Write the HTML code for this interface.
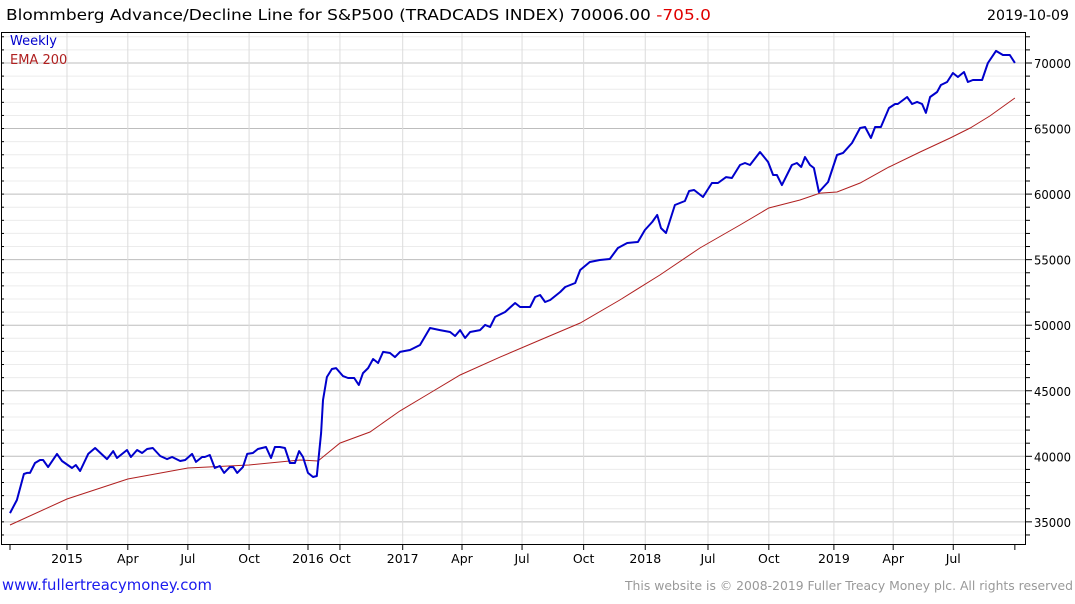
<!DOCTYPE html>
<html><head><meta charset="utf-8"><style>
body{margin:0;background:#fff;width:1075px;height:600px;overflow:hidden;font-family:"DejaVu Sans",sans-serif}
</style></head><body>
<svg id="chart" width="1075" height="600" xmlns="http://www.w3.org/2000/svg" font-family="DejaVu Sans, sans-serif">
<text x="6" y="20" font-size="15" fill="#000" textLength="705" lengthAdjust="spacingAndGlyphs">Blommberg Advance/Decline Line for S&amp;P500 (TRADCADS INDEX) 70006.00 <tspan fill="#e00000">-705.0</tspan></text>
<text x="1069" y="20" font-size="14" fill="#000" text-anchor="end" textLength="82" lengthAdjust="spacingAndGlyphs">2019-10-09</text>
<g id="grid"></g>
<g id="series"></g>
<rect x="1.5" y="32.5" width="1024" height="512" fill="none" stroke="#000" stroke-width="1"/>
<g id="axes"></g>
<text x="10" y="45" font-size="13" fill="#0000cc">Weekly</text>
<text x="10" y="64" font-size="13" fill="#b02020">EMA 200</text>
<text x="2" y="590" font-size="15" fill="#1a1aee" textLength="210" lengthAdjust="spacingAndGlyphs">www.fullertreacymoney.com</text>
<text x="1073" y="590" font-size="12" fill="#999" text-anchor="end" textLength="448" lengthAdjust="spacingAndGlyphs">This website is © 2008-2019 Fuller Treacy Money plc. All rights reserved</text>
</svg>
<script>
const weeklyT=[0,1.8,3.6,4.4,5.2,6.5,7.8,8.6,9.9,12.2,13.5,16.1,17.1,18.2,20.3,22.1,25.2,26.8,27.8,30.4,31.4,33,34.3,35.6,37.1,39,40.8,42.1,44.2,45.5,47.3,48.3,49.9,50.6,51.9,53.2,54.5,55.6,57.1,58,59,60.5,61.6,63.1,64.4,66.5,67.8,68.8,70.1,71.4,72.7,74,75.1,76.1,77.4,78.7,79.7,80.8,81.3,82.3,83.6,84.7,86.5,87.8,89.4,90.6,91.7,93,94.3,95.6,96.9,98.7,100,101.3,103.9,106.5,109.1,111.7,114.3,115.6,116.9,118.2,119.5,122.1,123.4,124.7,126,128.6,131.2,132.5,135.1,136.4,137.7,139,140.3,142.9,144.2,146.8,148.1,150.6,153.2,155.8,157.9,160.3,163.1,164.9,166.8,168.1,169.1,170.4,172.7,175.3,176.4,177.7,180,182.3,183.9,186,187.5,189.6,190.9,192.2,194.8,196.9,198.2,199.2,200.5,203.1,204.4,205.5,206.5,207.8,208.8,210.1,212.5,214.8,216.4,218.7,220.8,222.1,223.6,224.7,226.2,228.3,229.9,230.6,233,234.3,235.6,236.9,237.9,239,240.8,241.8,243.4,244.9,246.2,247.8,248.8,250.1,252.5,254,256.1,257.9,259.7,261];
const weeklyV=[35670,36670,38650,38730,38730,39490,39720,39720,39180,40180,39640,39110,39340,38880,40180,40630,39790,40400,39870,40480,39950,40480,40250,40560,40630,40020,39790,39950,39640,39720,40180,39570,39950,39950,40100,39110,39260,38730,39180,39180,38730,39180,40180,40250,40560,40710,39870,40710,40710,40630,39490,39490,40400,39950,38730,38420,38500,41780,44290,46050,46660,46730,46120,45970,45970,45440,46350,46730,47420,47120,47960,47880,47570,47960,48110,48490,49790,49630,49480,49180,49630,49020,49480,49630,50020,49860,50630,51010,51690,51390,51390,52150,52300,51770,51920,52530,52910,53220,54210,54820,54970,55050,55890,56270,56350,57260,57870,58410,57410,57030,59170,59470,60240,60310,59780,60850,60850,61300,61230,62220,62370,62220,63210,62450,61460,61460,60690,62220,62370,62070,62830,62220,61990,60160,60920,62980,63140,63900,65040,65120,64280,65120,65120,66570,66870,66870,67410,66870,67030,66870,66190,67410,67790,68320,68550,69240,68930,69310,68550,68700,68700,70000,70920,70610,70610,70006];
const emaT=[0,14.8,30.6,46.2,62.1,75.3,80,85.7,93.5,101.3,109.1,116.9,127.3,137.7,148.1,158.4,168.8,179.2,189.6,197.1,205.2,210.4,214.8,220.8,228.3,236.4,244.2,249.4,254.5,261];
const emaV=[34760,36740,38270,39110,39340,39720,39640,41010,41850,43460,44830,46200,47570,48870,50170,51920,53830,55890,57640,58940,59550,60080,60160,60850,62070,63210,64280,65040,65960,67330];
const xTickT=[0,14.8,30.6,46.2,62.1,77.4,85.7,102,117.4,133,149,165,181.3,197.1,214,229.4,245,261];
const xTickLabels=["","2015","Apr","Jul","Oct","2016","Oct","2017","Apr","Jul","Oct","2018","Jul","Oct","2019","Apr","Jul",""];
const yTicks=[35000,40000,45000,50000,55000,60000,65000,70000];
const NS="http://www.w3.org/2000/svg";
function xs(t){return 10+t*3.85;}
function ys(v){return 63+(70000-v)/1000*13.11;}
function mk(tag,attrs,parent){const e=document.createElementNS(NS,tag);for(const k in attrs)e.setAttribute(k,attrs[k]);parent.appendChild(e);return e;}
const grid=document.getElementById('grid'),axes=document.getElementById('axes'),ser=document.getElementById('series');
for(let v=34000;v<=72000;v+=1000){const y=ys(v);if(y<33||y>544)continue;
 const major=v%5000===0;
 const l=mk('line',{x1:2,x2:1025,y1:y,y2:y,stroke:major?'#bdbdbd':'#ececec','stroke-width':1},grid);
 
 
 const tk=mk('line',{x1:1026,x2:major?1032:1030,y1:y,y2:y,stroke:'#000'},axes);
 
 
 const lt=mk('line',{x1:1,x2:4,y1:y,y2:y,stroke:'#000'},axes);
 
 
}
yTicks.forEach(v=>{const t=mk('text',{x:1034,y:ys(v)+5,'font-size':12,fill:'#000',textLength:37,lengthAdjust:'spacingAndGlyphs'},axes);t.textContent=v;
 
 });
xTickT.forEach((t,i)=>{const x=xs(t);
 if(i>0&&i<xTickT.length-1){const g=mk('line',{x1:x,x2:x,y1:33,y2:544,stroke:'#dcdcdc'},grid);
 
 }
 const tk=mk('line',{x1:x,x2:x,y1:545,y2:550,stroke:'#000'},axes);
 
 
 if(xTickLabels[i]){const tx=mk('text',{x:x,y:563,'font-size':12.5,fill:'#000','text-anchor':'middle'},axes);tx.textContent=xTickLabels[i];
 
 }
});
const ep=mk('polyline',{points:emaT.map((t,i)=>xs(t).toFixed(1)+','+ys(emaV[i]).toFixed(1)).join(' '),fill:'none',stroke:'#b02020','stroke-width':1},ser);


const wp=mk('polyline',{points:weeklyT.map((t,i)=>xs(t).toFixed(1)+','+ys(weeklyV[i]).toFixed(1)).join(' '),fill:'none',stroke:'#0000cc','stroke-width':2,'stroke-linejoin':'round'},ser);


</script>
</body></html>
